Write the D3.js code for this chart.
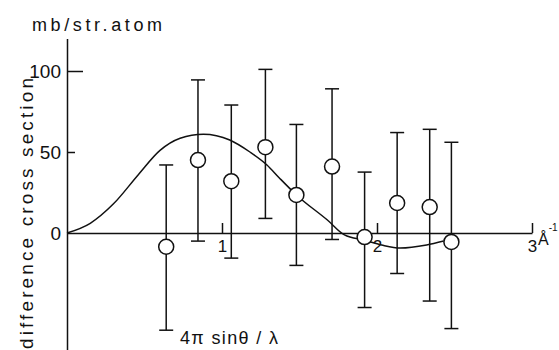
<!DOCTYPE html>
<html>
<head>
<meta charset="utf-8">
<script src="https://cdn.jsdelivr.net/npm/d3@7"></script>
<style>
  html, body { margin: 0; padding: 0; background: #fff; }
  svg { display: block; font-family: "Liberation Sans", Arial, sans-serif; }
</style>
</head>
<body>
<svg id="chart"></svg>
<script>
// measured points (4pi sin(theta)/lambda in 1/A, difference cross section in mb/str.atom)
const qValues = [0.64, 0.845, 1.06, 1.28, 1.48, 1.71, 1.92, 2.13, 2.34, 2.48];
const sigma   = [-8.5, 45, 32, 53, 23.5, 41, -2.5, 18.5, 16, -5.5];
const errHigh = [42, 94.5, 79, 101, 67, 89, 37.6, 62, 64, 56];
const errLow  = [-60, -5, -15.5, 9, -20, -4, -46, -25, -42, -59];

// calculated curve
const curveQ = [0, 0.15, 0.30, 0.46, 0.60, 0.73, 0.88, 1.05, 1.18, 1.29, 1.37, 1.48, 1.68, 1.79, 1.92, 2.03, 2.15, 2.32, 2.43];
const curveV = [0, 6, 18, 36, 51, 58.5, 61, 57.4, 50, 42, 34, 23.5, 8, -1.2, -4.5, -7.4, -9.3, -7.4, -5];

const xTicks = [1, 2, 3];
const yTicks = [0, 50, 100];

const width = 559, height = 350;
const svg = d3.select('#chart')
  .attr('width', width)
  .attr('height', height);

const x = d3.scaleLinear().domain([0, 3]).range([67, 532]);
const y = d3.scaleLinear().domain([-75, 120]).range([354.5, 38.6]);

const ink = '#111';

// x axis along zero, ticks pointing up
const xAxis = svg.append('g')
  .attr('transform', `translate(0, ${y(0)})`)
  .call(d3.axisBottom(x).tickValues(xTicks).tickSize(-10).tickSizeOuter(0).tickPadding(7).tickFormat(d3.format('d')));
xAxis.selectAll('path, line').attr('stroke', ink).attr('stroke-width', 1.5);
xAxis.selectAll('text').attr('fill', ink).attr('font-size', 17);

// y axis, ticks pointing right
const yAxis = svg.append('g')
  .attr('transform', `translate(${x(0)}, 0)`)
  .call(d3.axisLeft(y).tickValues(yTicks).tickSize(-14).tickSizeOuter(0).tickPadding(6));
yAxis.selectAll('path, line').attr('stroke', ink).attr('stroke-width', 1.5);
yAxis.selectAll('line').attr('x2', d => d === 100 ? 16 : d === 50 ? 8 : 0);
yAxis.selectAll('text').attr('fill', ink).attr('font-size', 19);

// calculated curve
const line = d3.line()
  .x(d => x(d[0]))
  .y(d => y(d[1]))
  .curve(d3.curveMonotoneX);
svg.append('path')
  .datum(d3.zip(curveQ, curveV))
  .attr('d', line)
  .attr('fill', 'none')
  .attr('stroke', ink)
  .attr('stroke-width', 1.5);

// error bars with hollow circles
const pts = qValues.map((q, i) => ({ q, v: sigma[i], hi: errHigh[i], lo: errLow[i] }));
const bar = svg.append('g').selectAll('g')
  .data(pts)
  .enter().append('g');

bar.append('line')
  .attr('x1', d => x(d.q)).attr('x2', d => x(d.q))
  .attr('y1', d => y(d.hi)).attr('y2', d => y(d.lo))
  .attr('stroke', ink).attr('stroke-width', 1.5);

bar.selectAll('line.cap')
  .data(d => [[d.q, d.hi], [d.q, d.lo]])
  .enter().append('line')
  .attr('class', 'cap')
  .attr('x1', d => x(d[0]) - 7).attr('x2', d => x(d[0]) + 7)
  .attr('y1', d => y(d[1])).attr('y2', d => y(d[1]))
  .attr('stroke', ink).attr('stroke-width', 1.5);

bar.append('circle')
  .attr('cx', d => x(d.q))
  .attr('cy', d => y(d.v))
  .attr('r', 7.5)
  .attr('fill', '#fff')
  .attr('stroke', ink)
  .attr('stroke-width', 1.5);

// titles
svg.append('text')
  .attr('x', 32).attr('y', 31)
  .attr('font-size', 18)
  .attr('textLength', 130)
  .attr('fill', ink)
  .text('mb/str.atom');

svg.append('text')
  .attr('transform', 'translate(33, 349) rotate(-90)')
  .attr('font-size', 19)
  .attr('textLength', 271)
  .attr('fill', ink)
  .text('difference cross section');

svg.append('text')
  .attr('x', 180).attr('y', 344)
  .attr('font-size', 18)
  .attr('textLength', 98)
  .attr('fill', ink)
  .text('4π sinθ / λ');

const unit = svg.append('text')
  .attr('x', 538).attr('y', 245)
  .attr('font-size', 16)
  .attr('fill', ink);
unit.append('tspan').text('Å');
unit.append('tspan')
  .attr('font-size', 10)
  .attr('dy', -14)
  .text('-1');
</script>
</body>
</html>
